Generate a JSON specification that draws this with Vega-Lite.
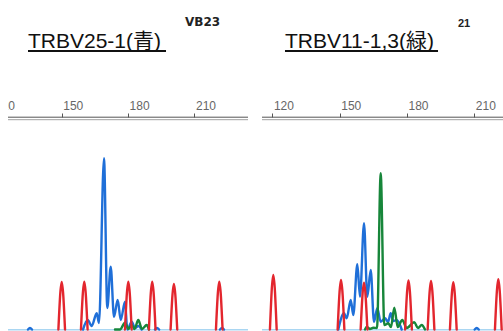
{
  "$schema": "https://vega.github.io/schema/vega-lite/v6.json",
  "width": 495,
  "height": 214,
  "autosize": "none",
  "padding": {"left": 8, "top": 117, "right": 0, "bottom": 0},
  "background": "white",
  "config": {"view": {"stroke": null}},
  "datasets": {
    "left": [
      {"dye":"blue","seg":"b0","u":134.77,"rfu":0},{"dye":"blue","seg":"b0","u":135.67,"rfu":15},{"dye":"blue","seg":"b0","u":136.57,"rfu":0},
      {"dye":"blue","seg":"b1","u":159.62,"rfu":0},{"dye":"blue","seg":"b1","u":161.74,"rfu":95},{"dye":"blue","seg":"b1","u":163.55,"rfu":35},{"dye":"blue","seg":"b1","u":165.81,"rfu":162},{"dye":"blue","seg":"b1","u":166.85,"rfu":65},{"dye":"blue","seg":"b1","u":169.11,"rfu":1712},{"dye":"blue","seg":"b1","u":170.6,"rfu":215},{"dye":"blue","seg":"b1","u":172.14,"rfu":628},{"dye":"blue","seg":"b1","u":173.63,"rfu":128},{"dye":"blue","seg":"b1","u":175.3,"rfu":295},{"dye":"blue","seg":"b1","u":176.66,"rfu":95},{"dye":"blue","seg":"b1","u":178.6,"rfu":278},{"dye":"blue","seg":"b1","u":179.64,"rfu":0},{"dye":"blue","seg":"b1","u":181.63,"rfu":78},{"dye":"blue","seg":"b1","u":183.12,"rfu":15},{"dye":"blue","seg":"b1","u":184.61,"rfu":35},{"dye":"blue","seg":"b1","u":186.15,"rfu":0},
      {"dye":"blue","seg":"b2","u":192.16,"rfu":0},{"dye":"blue","seg":"b2","u":193.06,"rfu":15},{"dye":"blue","seg":"b2","u":194.0,"rfu":0},
      {"dye":"blue","seg":"b3","u":221.53,"rfu":0},{"dye":"blue","seg":"b3","u":222.43,"rfu":15},{"dye":"blue","seg":"b3","u":223.33,"rfu":0},
      {"dye":"green","seg":"g1","u":174.08,"rfu":0},{"dye":"green","seg":"g1","u":176.34,"rfu":0},{"dye":"green","seg":"g1","u":178.6,"rfu":68},{"dye":"green","seg":"g1","u":180.18,"rfu":5},{"dye":"green","seg":"g1","u":181.63,"rfu":45},{"dye":"green","seg":"g1","u":182.89,"rfu":5},{"dye":"green","seg":"g1","u":184.61,"rfu":95},{"dye":"green","seg":"g1","u":186.28,"rfu":5},{"dye":"green","seg":"g1","u":188.41,"rfu":45},{"dye":"green","seg":"g1","u":189.44,"rfu":0},
      {"dye":"red","seg":"r1","u":148.5,"rfu":0},{"dye":"red","seg":"r1","u":150.0,"rfu":475},{"dye":"red","seg":"r1","u":151.5,"rfu":0},
      {"dye":"red","seg":"r2","u":158.7,"rfu":0},{"dye":"red","seg":"r2","u":160.2,"rfu":478},{"dye":"red","seg":"r2","u":161.7,"rfu":0},
      {"dye":"red","seg":"r3","u":178.6,"rfu":0},{"dye":"red","seg":"r3","u":180.1,"rfu":478},{"dye":"red","seg":"r3","u":181.6,"rfu":0},
      {"dye":"red","seg":"r4","u":189.4,"rfu":0},{"dye":"red","seg":"r4","u":190.9,"rfu":478},{"dye":"red","seg":"r4","u":192.4,"rfu":0},
      {"dye":"red","seg":"r5","u":199.2,"rfu":0},{"dye":"red","seg":"r5","u":200.7,"rfu":455},{"dye":"red","seg":"r5","u":202.2,"rfu":0},
      {"dye":"red","seg":"r6","u":219.7,"rfu":0},{"dye":"red","seg":"r6","u":221.2,"rfu":478},{"dye":"red","seg":"r6","u":222.7,"rfu":0}
    ],
    "right": [
      {"dye":"blue","seg":"b1","u":149.38,"rfu":0},{"dye":"blue","seg":"b1","u":151.92,"rfu":162},{"dye":"blue","seg":"b1","u":153.12,"rfu":112},{"dye":"blue","seg":"b1","u":154.91,"rfu":295},{"dye":"blue","seg":"b1","u":156.06,"rfu":145},{"dye":"blue","seg":"b1","u":157.85,"rfu":652},{"dye":"blue","seg":"b1","u":159.05,"rfu":328},{"dye":"blue","seg":"b1","u":160.84,"rfu":1062},{"dye":"blue","seg":"b1","u":162.31,"rfu":328},{"dye":"blue","seg":"b1","u":163.82,"rfu":595},{"dye":"blue","seg":"b1","u":165.29,"rfu":78},{"dye":"blue","seg":"b1","u":166.76,"rfu":212},{"dye":"blue","seg":"b1","u":168.28,"rfu":78},{"dye":"blue","seg":"b1","u":170.2,"rfu":112},{"dye":"blue","seg":"b1","u":171.53,"rfu":75},{"dye":"blue","seg":"b1","u":172.74,"rfu":162},{"dye":"blue","seg":"b1","u":173.9,"rfu":85},{"dye":"blue","seg":"b1","u":175.41,"rfu":95},{"dye":"blue","seg":"b1","u":177.64,"rfu":0},
      {"dye":"blue","seg":"b2","u":210.18,"rfu":0},{"dye":"blue","seg":"b2","u":211.08,"rfu":15},{"dye":"blue","seg":"b2","u":211.98,"rfu":0},
      {"dye":"green","seg":"g1","u":161.28,"rfu":0},{"dye":"green","seg":"g1","u":162.04,"rfu":28},{"dye":"green","seg":"g1","u":163.51,"rfu":5},{"dye":"green","seg":"g1","u":164.98,"rfu":18},{"dye":"green","seg":"g1","u":166.63,"rfu":15},{"dye":"green","seg":"g1","u":168.28,"rfu":1562},{"dye":"green","seg":"g1","u":169.89,"rfu":45},{"dye":"green","seg":"g1","u":171.67,"rfu":62},{"dye":"green","seg":"g1","u":172.87,"rfu":25},{"dye":"green","seg":"g1","u":174.34,"rfu":218},{"dye":"green","seg":"g1","u":175.86,"rfu":25},{"dye":"green","seg":"g1","u":177.91,"rfu":95},{"dye":"green","seg":"g1","u":179.87,"rfu":15},{"dye":"green","seg":"g1","u":183.26,"rfu":72},{"dye":"green","seg":"g1","u":184.91,"rfu":15},{"dye":"green","seg":"g1","u":186.56,"rfu":45},{"dye":"green","seg":"g1","u":188.03,"rfu":0},
      {"dye":"red","seg":"r1","u":118.9,"rfu":0},{"dye":"red","seg":"r1","u":120.4,"rfu":545},{"dye":"red","seg":"r1","u":121.9,"rfu":0},
      {"dye":"red","seg":"r2","u":149.08,"rfu":0},{"dye":"red","seg":"r2","u":150.58,"rfu":495},{"dye":"red","seg":"r2","u":152.08,"rfu":0},
      {"dye":"red","seg":"r3","u":159.34,"rfu":0},{"dye":"red","seg":"r3","u":160.84,"rfu":468},{"dye":"red","seg":"r3","u":162.34,"rfu":0},
      {"dye":"red","seg":"r4","u":179.17,"rfu":0},{"dye":"red","seg":"r4","u":180.67,"rfu":490},{"dye":"red","seg":"r4","u":182.17,"rfu":0},
      {"dye":"red","seg":"r5","u":189.21,"rfu":0},{"dye":"red","seg":"r5","u":190.71,"rfu":485},{"dye":"red","seg":"r5","u":192.21,"rfu":0},
      {"dye":"red","seg":"r6","u":199.15,"rfu":0},{"dye":"red","seg":"r6","u":200.65,"rfu":472},{"dye":"red","seg":"r6","u":202.15,"rfu":0},
      {"dye":"red","seg":"r7","u":219.21,"rfu":0},{"dye":"red","seg":"r7","u":220.71,"rfu":502},{"dye":"red","seg":"r7","u":222.21,"rfu":0}
    ]
  },
  "layer": [
    {
      "layer": [
        {
          "data": {"values": [{}]},
          "mark": {"type": "rule", "color": "#a9d6f2", "strokeWidth": 1.5},
          "encoding": {
            "x": {"datum": 125.73, "type": "quantitative", "scale": {"domain": [120, 234.18], "range": [-12.68, 240], "nice": false, "zero": false},
                  "axis": {"orient": "top", "title": null, "values": [120, 150, 180, 210], "format": "d", "domain": false, "grid": false, "tickSize": 4, "tickColor": "#555555", "tickWidth": 1, "labelFont": "Liberation Sans", "labelFontSize": 12, "labelColor": "#666666", "labelAlign": "left", "labelBaseline": "alphabetic", "labelPadding": 3.5, "labelOffset": {"condition": {"test": "datum.value === 120", "value": -0.8}, "value": 1}, "labelFlush": false, "labelOverlap": false}},
            "x2": {"datum": 234.18},
            "y": {"datum": -2, "type": "quantitative", "scale": {"domain": [-15, 2125], "nice": false, "zero": false}, "axis": null}
          }
        },
        {
          "data": {"values": [{}]},
          "mark": {"type": "rule", "color": "#555555", "strokeWidth": 1},
          "encoding": {
            "x": {"datum": 125.73, "type": "quantitative", "scale": {"domain": [120, 234.18], "range": [-12.68, 240], "nice": false, "zero": false},
                  "axis": {"orient": "top", "title": null, "values": [120, 150, 180, 210], "format": "d", "domain": false, "grid": false, "tickSize": 4, "tickColor": "#555555", "tickWidth": 1, "labelFont": "Liberation Sans", "labelFontSize": 12, "labelColor": "#666666", "labelAlign": "left", "labelBaseline": "alphabetic", "labelPadding": 3.5, "labelOffset": {"condition": {"test": "datum.value === 120", "value": -0.8}, "value": 1}, "labelFlush": false, "labelOverlap": false}},
            "x2": {"datum": 234.18},
            "y": {"datum": 2123, "type": "quantitative", "scale": {"domain": [-15, 2125], "nice": false, "zero": false}, "axis": null}
          }
        },
        {
          "data": {"values": [{}]},
          "mark": {"type": "rule", "color": "#a0a0a0", "strokeWidth": 1},
          "encoding": {
            "x": {"datum": 125.73, "type": "quantitative", "scale": {"domain": [120, 234.18], "range": [-12.68, 240], "nice": false, "zero": false},
                  "axis": {"orient": "top", "title": null, "values": [120, 150, 180, 210], "format": "d", "domain": false, "grid": false, "tickSize": 4, "tickColor": "#555555", "tickWidth": 1, "labelFont": "Liberation Sans", "labelFontSize": 12, "labelColor": "#666666", "labelAlign": "left", "labelBaseline": "alphabetic", "labelPadding": 3.5, "labelOffset": {"condition": {"test": "datum.value === 120", "value": -0.8}, "value": 1}, "labelFlush": false, "labelOverlap": false}},
            "x2": {"datum": 234.18},
            "y": {"datum": 2098, "type": "quantitative", "scale": {"domain": [-15, 2125], "nice": false, "zero": false}, "axis": null}
          }
        },
        {
          "data": {"values": [{}]},
          "mark": {"type": "rect", "color": "white", "opacity": 1},
          "encoding": {
            "x": {"datum": 110, "type": "quantitative", "scale": {"domain": [120, 234.18], "range": [-12.68, 240], "nice": false, "zero": false},
                  "axis": {"orient": "top", "title": null, "values": [120, 150, 180, 210], "format": "d", "domain": false, "grid": false, "tickSize": 4, "tickColor": "#555555", "tickWidth": 1, "labelFont": "Liberation Sans", "labelFontSize": 12, "labelColor": "#666666", "labelAlign": "left", "labelBaseline": "alphabetic", "labelPadding": 3.5, "labelOffset": {"condition": {"test": "datum.value === 120", "value": -0.8}, "value": 1}, "labelFlush": false, "labelOverlap": false}},
            "x2": {"datum": 125.73},
            "y": {"datum": 2150, "type": "quantitative", "scale": {"domain": [-15, 2125], "nice": false, "zero": false}, "axis": null},
            "y2": {"datum": 2450}
          }
        },
        {
          "data": {"name": "left"},
          "mark": {"type": "line", "interpolate": "monotone", "strokeWidth": 2.4, "strokeJoin": "round", "strokeCap": "round"},
          "encoding": {
            "x": {"field": "u", "type": "quantitative", "scale": {"domain": [120, 234.18], "range": [-12.68, 240], "nice": false, "zero": false},
                  "axis": {"orient": "top", "title": null, "values": [120, 150, 180, 210], "format": "d", "domain": false, "grid": false, "tickSize": 4, "tickColor": "#555555", "tickWidth": 1, "labelFont": "Liberation Sans", "labelFontSize": 12, "labelColor": "#666666", "labelAlign": "left", "labelBaseline": "alphabetic", "labelPadding": 3.5, "labelOffset": {"condition": {"test": "datum.value === 120", "value": -0.8}, "value": 1}, "labelFlush": false, "labelOverlap": false}},
            "y": {"field": "rfu", "type": "quantitative", "scale": {"domain": [-15, 2125], "nice": false, "zero": false}, "axis": null},
            "color": {"field": "dye", "type": "nominal", "scale": {"domain": ["blue", "green", "red"], "range": ["#1f6fd8", "#17863a", "#e3262e"]}, "legend": null},
            "detail": {"field": "seg", "type": "nominal"}
          }
        },
        {
          "data": {"values": [{"label": "TRBV25-1(青)"}]},
          "mark": {"type": "text", "align": "left", "baseline": "alphabetic", "font": "Liberation Sans, Noto Sans CJK JP", "fontSize": 21, "color": "#111111"},
          "encoding": {
            "x": {"datum": 134.77, "type": "quantitative", "scale": {"domain": [120, 234.18], "range": [-12.68, 240], "nice": false, "zero": false},
                  "axis": {"orient": "top", "title": null, "values": [120, 150, 180, 210], "format": "d", "domain": false, "grid": false, "tickSize": 4, "tickColor": "#555555", "tickWidth": 1, "labelFont": "Liberation Sans", "labelFontSize": 12, "labelColor": "#666666", "labelAlign": "left", "labelBaseline": "alphabetic", "labelPadding": 3.5, "labelOffset": {"condition": {"test": "datum.value === 120", "value": -0.8}, "value": 1}, "labelFlush": false, "labelOverlap": false}},
            "y": {"datum": 2815, "type": "quantitative", "scale": {"domain": [-15, 2125], "nice": false, "zero": false}, "axis": null},
            "text": {"field": "label", "type": "nominal"}
          }
        },
        {
          "data": {"values": [{}]},
          "mark": {"type": "rule", "color": "#111111", "strokeWidth": 2},
          "encoding": {
            "x": {"datum": 134.77, "type": "quantitative", "scale": {"domain": [120, 234.18], "range": [-12.68, 240], "nice": false, "zero": false},
                  "axis": {"orient": "top", "title": null, "values": [120, 150, 180, 210], "format": "d", "domain": false, "grid": false, "tickSize": 4, "tickColor": "#555555", "tickWidth": 1, "labelFont": "Liberation Sans", "labelFontSize": 12, "labelColor": "#666666", "labelAlign": "left", "labelBaseline": "alphabetic", "labelPadding": 3.5, "labelOffset": {"condition": {"test": "datum.value === 120", "value": -0.8}, "value": 1}, "labelFlush": false, "labelOverlap": false}},
            "x2": {"datum": 197.13},
            "y": {"datum": 2785, "type": "quantitative", "scale": {"domain": [-15, 2125], "nice": false, "zero": false}, "axis": null}
          }
        },
        {
          "data": {"values": [{"label": "VB23"}]},
          "mark": {"type": "text", "align": "left", "baseline": "alphabetic", "font": "DejaVu Sans", "fontWeight": "bold", "fontSize": 12, "color": "#222222"},
          "encoding": {
            "x": {"datum": 205.71, "type": "quantitative", "scale": {"domain": [120, 234.18], "range": [-12.68, 240], "nice": false, "zero": false},
                  "axis": {"orient": "top", "title": null, "values": [120, 150, 180, 210], "format": "d", "domain": false, "grid": false, "tickSize": 4, "tickColor": "#555555", "tickWidth": 1, "labelFont": "Liberation Sans", "labelFontSize": 12, "labelColor": "#666666", "labelAlign": "left", "labelBaseline": "alphabetic", "labelPadding": 3.5, "labelOffset": {"condition": {"test": "datum.value === 120", "value": -0.8}, "value": 1}, "labelFlush": false, "labelOverlap": false}},
            "y": {"datum": 3035, "type": "quantitative", "scale": {"domain": [-15, 2125], "nice": false, "zero": false}, "axis": null},
            "text": {"field": "label", "type": "nominal"}
          }
        }
      ]
    },
    {
      "layer": [
        {
          "data": {"values": [{}]},
          "mark": {"type": "rule", "color": "#a9d6f2", "strokeWidth": 1.5},
          "encoding": {
            "x": {"datum": 115.36, "type": "quantitative", "scale": {"domain": [115.36, 222.8], "range": [254, 495], "nice": false, "zero": false},
                  "axis": {"orient": "top", "title": null, "values": [120, 150, 180, 210], "format": "d", "domain": false, "grid": false, "tickSize": 4, "tickColor": "#555555", "tickWidth": 1, "labelFont": "Liberation Sans", "labelFontSize": 12, "labelColor": "#666666", "labelAlign": "left", "labelBaseline": "alphabetic", "labelPadding": 3.5, "labelOffset": 1, "labelFlush": false, "labelOverlap": false}},
            "x2": {"datum": 222.8},
            "y": {"datum": -2, "type": "quantitative", "scale": {"domain": [-15, 2125], "nice": false, "zero": false}, "axis": null}
          }
        },
        {
          "data": {"values": [{}]},
          "mark": {"type": "rule", "color": "#555555", "strokeWidth": 1},
          "encoding": {
            "x": {"datum": 115.36, "type": "quantitative", "scale": {"domain": [115.36, 222.8], "range": [254, 495], "nice": false, "zero": false},
                  "axis": {"orient": "top", "title": null, "values": [120, 150, 180, 210], "format": "d", "domain": false, "grid": false, "tickSize": 4, "tickColor": "#555555", "tickWidth": 1, "labelFont": "Liberation Sans", "labelFontSize": 12, "labelColor": "#666666", "labelAlign": "left", "labelBaseline": "alphabetic", "labelPadding": 3.5, "labelOffset": 1, "labelFlush": false, "labelOverlap": false}},
            "x2": {"datum": 222.8},
            "y": {"datum": 2123, "type": "quantitative", "scale": {"domain": [-15, 2125], "nice": false, "zero": false}, "axis": null}
          }
        },
        {
          "data": {"values": [{}]},
          "mark": {"type": "rule", "color": "#a0a0a0", "strokeWidth": 1},
          "encoding": {
            "x": {"datum": 115.36, "type": "quantitative", "scale": {"domain": [115.36, 222.8], "range": [254, 495], "nice": false, "zero": false},
                  "axis": {"orient": "top", "title": null, "values": [120, 150, 180, 210], "format": "d", "domain": false, "grid": false, "tickSize": 4, "tickColor": "#555555", "tickWidth": 1, "labelFont": "Liberation Sans", "labelFontSize": 12, "labelColor": "#666666", "labelAlign": "left", "labelBaseline": "alphabetic", "labelPadding": 3.5, "labelOffset": 1, "labelFlush": false, "labelOverlap": false}},
            "x2": {"datum": 222.8},
            "y": {"datum": 2098, "type": "quantitative", "scale": {"domain": [-15, 2125], "nice": false, "zero": false}, "axis": null}
          }
        },
        {
          "data": {"name": "right"},
          "mark": {"type": "line", "interpolate": "monotone", "strokeWidth": 2.4, "strokeJoin": "round", "strokeCap": "round"},
          "encoding": {
            "x": {"field": "u", "type": "quantitative", "scale": {"domain": [115.36, 222.8], "range": [254, 495], "nice": false, "zero": false},
                  "axis": {"orient": "top", "title": null, "values": [120, 150, 180, 210], "format": "d", "domain": false, "grid": false, "tickSize": 4, "tickColor": "#555555", "tickWidth": 1, "labelFont": "Liberation Sans", "labelFontSize": 12, "labelColor": "#666666", "labelAlign": "left", "labelBaseline": "alphabetic", "labelPadding": 3.5, "labelOffset": 1, "labelFlush": false, "labelOverlap": false}},
            "y": {"field": "rfu", "type": "quantitative", "scale": {"domain": [-15, 2125], "nice": false, "zero": false}, "axis": null},
            "color": {"field": "dye", "type": "nominal", "scale": {"domain": ["blue", "green", "red"], "range": ["#1f6fd8", "#17863a", "#e3262e"]}, "legend": null},
            "detail": {"field": "seg", "type": "nominal"}
          }
        },
        {
          "data": {"values": [{"label": "TRBV11-1,3(緑)"}]},
          "mark": {"type": "text", "align": "left", "baseline": "alphabetic", "font": "Liberation Sans, Noto Sans CJK JP", "fontSize": 21, "color": "#111111"},
          "encoding": {
            "x": {"datum": 125.61, "type": "quantitative", "scale": {"domain": [115.36, 222.8], "range": [254, 495], "nice": false, "zero": false},
                  "axis": {"orient": "top", "title": null, "values": [120, 150, 180, 210], "format": "d", "domain": false, "grid": false, "tickSize": 4, "tickColor": "#555555", "tickWidth": 1, "labelFont": "Liberation Sans", "labelFontSize": 12, "labelColor": "#666666", "labelAlign": "left", "labelBaseline": "alphabetic", "labelPadding": 3.5, "labelOffset": 1, "labelFlush": false, "labelOverlap": false}},
            "y": {"datum": 2815, "type": "quantitative", "scale": {"domain": [-15, 2125], "nice": false, "zero": false}, "axis": null},
            "text": {"field": "label", "type": "nominal"}
          }
        },
        {
          "data": {"values": [{}]},
          "mark": {"type": "rule", "color": "#111111", "strokeWidth": 2},
          "encoding": {
            "x": {"datum": 125.61, "type": "quantitative", "scale": {"domain": [115.36, 222.8], "range": [254, 495], "nice": false, "zero": false},
                  "axis": {"orient": "top", "title": null, "values": [120, 150, 180, 210], "format": "d", "domain": false, "grid": false, "tickSize": 4, "tickColor": "#555555", "tickWidth": 1, "labelFont": "Liberation Sans", "labelFontSize": 12, "labelColor": "#666666", "labelAlign": "left", "labelBaseline": "alphabetic", "labelPadding": 3.5, "labelOffset": 1, "labelFlush": false, "labelOverlap": false}},
            "x2": {"datum": 193.83},
            "y": {"datum": 2785, "type": "quantitative", "scale": {"domain": [-15, 2125], "nice": false, "zero": false}, "axis": null}
          }
        },
        {
          "data": {"values": [{"label": "21"}]},
          "mark": {"type": "text", "align": "left", "baseline": "alphabetic", "font": "Liberation Sans", "fontWeight": "bold", "fontSize": 11, "color": "#222222"},
          "encoding": {
            "x": {"datum": 202.74, "type": "quantitative", "scale": {"domain": [115.36, 222.8], "range": [254, 495], "nice": false, "zero": false},
                  "axis": {"orient": "top", "title": null, "values": [120, 150, 180, 210], "format": "d", "domain": false, "grid": false, "tickSize": 4, "tickColor": "#555555", "tickWidth": 1, "labelFont": "Liberation Sans", "labelFontSize": 12, "labelColor": "#666666", "labelAlign": "left", "labelBaseline": "alphabetic", "labelPadding": 3.5, "labelOffset": 1, "labelFlush": false, "labelOverlap": false}},
            "y": {"datum": 3025, "type": "quantitative", "scale": {"domain": [-15, 2125], "nice": false, "zero": false}, "axis": null},
            "text": {"field": "label", "type": "nominal"}
          }
        }
      ]
    }
  ],
  "resolve": {"scale": {"x": "independent"}, "axis": {"x": "independent"}}
}
